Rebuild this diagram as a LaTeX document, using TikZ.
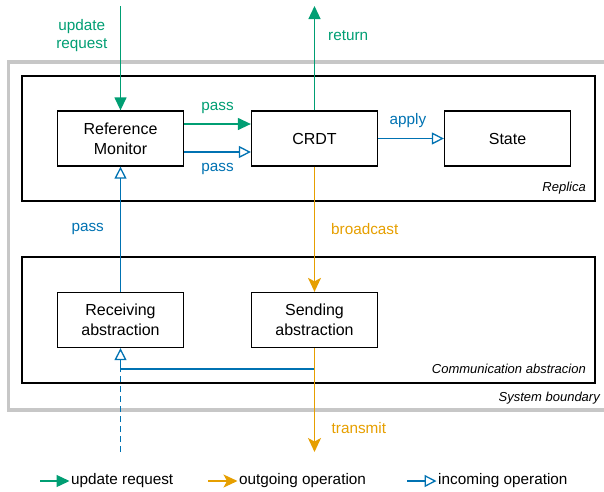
\documentclass[tikz,border=0pt]{standalone}
\usepackage{fontspec}
\setmainfont{Liberation Sans}
\usetikzlibrary{arrows.meta,positioning}
\definecolor{reqgreen}{RGB}{0,158,115}
\definecolor{outorange}{RGB}{230,159,0}
\definecolor{inblue}{RGB}{0,114,178}
\tikzset{
  block/.style={draw, line width=1.3pt, minimum width=126pt, minimum height=55pt, align=center, font=\fontsize{16}{20}\selectfont},
  container/.style={draw, line width=1.4pt},
  corner/.style={font=\itshape\fontsize{13}{15}\selectfont, anchor=east, inner sep=0pt},
  lbl/.style={font=\fontsize{15.3}{18}\selectfont, inner sep=0pt},
  reqarrow/.style={draw=reqgreen, line width=1.3pt, -{Triangle[length=13pt,width=12pt]}},
  outarrow/.style={draw=outorange, line width=1.3pt, -{Stealth[length=14pt,width=13pt,inset=3.5pt]}},
  inarrow/.style={draw=inblue, line width=1.3pt, -{Triangle[open,length=12pt,width=12pt,line width=1.3pt]}}
}
\begin{document}
\begin{tikzpicture}[x=1pt,y=-1pt]
\useasboundingbox (0,0) rectangle (604,491);
% boundaries
\draw[line width=3.5pt, draw=black!22] (8.5,62) rectangle (640,410);
\node[corner] at (600,398) {System boundary};
\draw[container] (22,76) rectangle (595,201);
\node[corner] at (586,188) {Replica};
\draw[container] (22,257) rectangle (595,383);
\node[corner] at (586,369) {Communication abstracion};

\node[block] (refmon) at (120.5,138.5) {Reference\\Monitor};
\node[block] (crdt) at (314.5,138.5) {CRDT};
\node[block] (state) at (507.5,138.5) {State};
\node[block] (recv) at (120.5,320) {Receiving\\abstraction};
\node[block] (send) at (314.5,320) {Sending\\abstraction};

\coordinate (upd) at (120.5,6);
\coordinate (ret) at (314.5,6);
\coordinate (tx) at (314.5,452);
\coordinate (rx) at (120.5,452);
\coordinate (fork) at (314.5,369);
\coordinate (merge) at (120.5,369);

% update path
\draw[reqarrow] (upd) -- node[lbl, pos=0.28, left=12.5pt, align=center, text=reqgreen] {update\\request} (refmon.north);
\draw[reqarrow] (crdt.north) -- node[lbl, pos=0.72, right=13pt, text=reqgreen] {return} (ret);
\draw[reqarrow] ([yshift=14.5pt]refmon.east) -- node[lbl, above=10pt, text=reqgreen] {pass} ([yshift=14.5pt]crdt.west);
% incoming
\draw[inarrow] ([yshift=-13.5pt]refmon.east) -- node[lbl, below=11pt, text=inblue] {pass} ([yshift=-13.5pt]crdt.west);
\draw[inarrow] (crdt) -- node[lbl, above=10pt, xshift=-3pt, text=inblue] {apply} (state);
\draw[inarrow] (recv.north) -- node[lbl, left=16pt, text=inblue] {pass} (refmon.south);
\draw[inarrow] (fork) -| (recv.south);
\draw[draw=inblue, line width=1.3pt, dash pattern=on 6pt off 4pt] (rx) -- (merge);
% outgoing
\draw[outarrow] (crdt.south) -- node[lbl, right=16pt, text=outorange] {broadcast} (send.north);
\draw[outarrow] (send.south) -- node[lbl, pos=0.77, right=16.5pt, text=outorange] {transmit} (tx);

% legend
\node[lbl, anchor=west, inner sep=1.5pt] (lgreq) at (69.5,481) {update request};
\node[lbl, anchor=west, inner sep=1.5pt] (lgout) at (237.5,481) {outgoing operation};
\node[lbl, anchor=west, inner sep=1.5pt] (lgin) at (436.5,481) {incoming operation};
\coordinate (lgreqs) at (40,481);
\coordinate (lgouts) at (208,481);
\coordinate (lgins) at (407,481);
\draw[reqarrow] (lgreqs) -- (lgreq.west);
\draw[outarrow] (lgouts) -- (lgout.west);
\draw[inarrow] (lgins) -- (lgin.west);
\end{tikzpicture}
\end{document}
